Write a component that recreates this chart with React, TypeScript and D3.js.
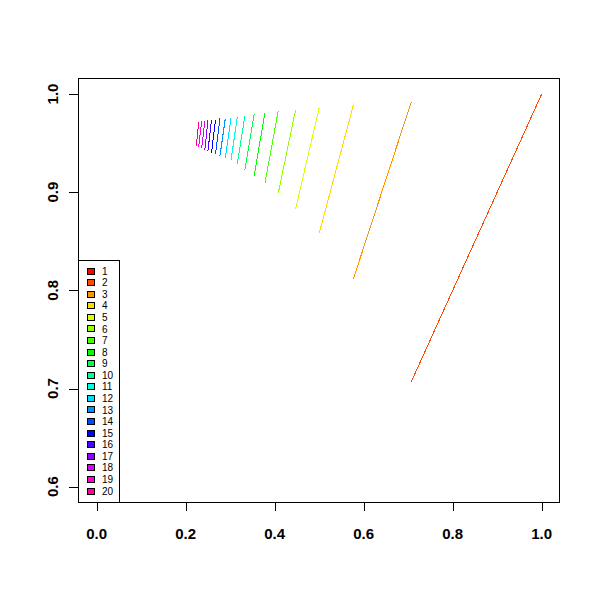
import React from "react";
import * as d3 from "d3";

// series 2..20 (series 1 collapses to the point (1,1))
const seriesIds = [2, 3, 4, 5, 6, 7, 8, 9, 10, 11, 12, 13, 14, 15, 16, 17, 18, 19, 20];
const xStart = [0.707, 0.577, 0.5, 0.447, 0.408, 0.378, 0.354, 0.333, 0.316, 0.302, 0.289, 0.277, 0.267, 0.258, 0.25, 0.243, 0.236, 0.229, 0.224];
const xEnd = [1.0, 0.707, 0.577, 0.5, 0.447, 0.408, 0.378, 0.354, 0.333, 0.316, 0.302, 0.289, 0.277, 0.267, 0.258, 0.25, 0.243, 0.236, 0.229];
const yStart = [0.707, 0.812, 0.858, 0.883, 0.899, 0.909, 0.917, 0.923, 0.929, 0.933, 0.935, 0.937, 0.939, 0.94, 0.942, 0.943, 0.945, 0.946, 0.947];
const yEnd = [1.0, 0.992, 0.989, 0.986, 0.984, 0.983, 0.981, 0.98, 0.978, 0.977, 0.976, 0.975, 0.975, 0.974, 0.974, 0.973, 0.972, 0.972, 0.971];

const legendLabels = ["1", "2", "3", "4", "5", "6", "7", "8", "9", "10", "11", "12", "13", "14", "15", "16", "17", "18", "19", "20"];
const palette = [
  "#FF0000", "#FF4900", "#FF9200", "#FFDB00", "#DBFF00", "#92FF00", "#49FF00",
  "#00FF00", "#00FF49", "#00FF92", "#00FFDB", "#00DBFF", "#0092FF", "#0049FF",
  "#0000FF", "#4900FF", "#9200FF", "#DB00FF", "#FF00DB", "#FF0092",
];
const xTicks = [0, 0.2, 0.4, 0.6, 0.8, 1.0];
const yTicks = [0.6, 0.7, 0.8, 0.9, 1.0];

export default function App() {
  const W = 600, H = 600;
  const box = { x0: 78, x1: 559, y0: 78, y1: 502 };
  const x = d3.scaleLinear().domain([0, 1]).range([96.7, 541.7]);
  const y = d3.scaleLinear().domain([0.6, 1.0]).range([486.7, 94]);
  const font = "'Liberation Sans', Arial, Helvetica, sans-serif";
  const line = d3.line<[number, number]>().x((d) => x(d[0])).y((d) => y(d[1]));

  const leg = { x0: 78, x1: 119, y0: 260, y1: 502, first: 271, step: 11.58 };

  return (
    <svg width={W} height={H} style={{ position: "absolute", left: 0, top: 0, background: "#fff" }}>
      <rect x={0} y={0} width={W} height={H} fill="#fff" />
      {seriesIds.map((id, i) => (
        <path
          key={id}
          d={line([[xStart[i], yStart[i]], [xEnd[i], yEnd[i]]]) || ""}
          stroke={palette[id - 1]}
          strokeWidth={1}
          fill="none"
          shapeRendering="crispEdges"
        />
      ))}
      <rect x={box.x0 + 0.5} y={box.y0 + 0.5} width={box.x1 - box.x0} height={box.y1 - box.y0} fill="none" stroke="#000" strokeWidth={1} shapeRendering="crispEdges" />
      {xTicks.map((t) => (
        <g key={"x" + t}>
          <line x1={Math.round(x(t)) + 0.5} x2={Math.round(x(t)) + 0.5} y1={box.y1 + 0.5} y2={box.y1 + 9} stroke="#000" shapeRendering="crispEdges" />
          <text x={x(t)} y={538.5} textAnchor="middle" fontFamily={font} fontSize={15} fontWeight="bold">{t.toFixed(1)}</text>
        </g>
      ))}
      {yTicks.map((t) => (
        <g key={"y" + t}>
          <line x1={box.x0 - 9} x2={box.x0 + 0.5} y1={Math.round(y(t)) + 0.5} y2={Math.round(y(t)) + 0.5} stroke="#000" shapeRendering="crispEdges" />
          <text transform={`translate(57.5,${y(t)}) rotate(-90)`} textAnchor="middle" fontFamily={font} fontSize={15} fontWeight="bold">{t.toFixed(1)}</text>
        </g>
      ))}
      <rect x={leg.x0 + 0.5} y={leg.y0 + 0.5} width={leg.x1 - leg.x0} height={leg.y1 - leg.y0} fill="#fff" stroke="#000" shapeRendering="crispEdges" />
      {legendLabels.map((lab, i) => {
        const cy = leg.first + i * leg.step;
        return (
          <g key={"l" + lab}>
            <rect x={87.5} y={Math.round(cy - 3.5) + 0.5} width={7} height={6} fill={palette[i]} stroke="#000" strokeWidth={1} shapeRendering="crispEdges" />
            <text x={102} y={cy + 3.6} fontFamily={font} fontSize={10}>{lab}</text>
          </g>
        );
      })}
    </svg>
  );
}
